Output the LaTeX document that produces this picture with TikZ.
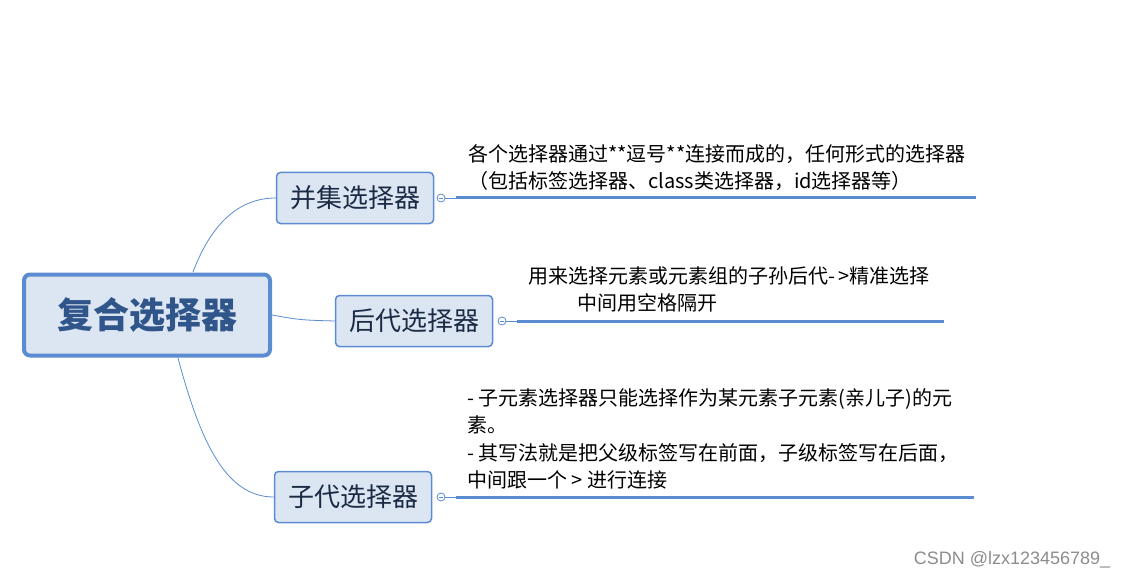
\documentclass[tikz,border=0pt]{standalone}
\usepackage{fontspec}
\setmainfont{Noto Sans CJK SC}
\newfontfamily\wmfont{Liberation Sans}
\definecolor{bc}{HTML}{5B8BD0}
\definecolor{fc}{HTML}{DCE6F2}
\definecolor{subtext}{HTML}{1C2B45}
\definecolor{roottext}{HTML}{30558A}
\definecolor{linec}{HTML}{5B8BD0}
\tikzset{
  rootbox/.style={draw=bc, line width=4pt, fill=fc, rounded corners=6pt, minimum width=246pt, minimum height=81pt, inner sep=0pt, text=roottext, font=\fontsize{36}{42}\selectfont\bfseries},
  subbox/.style={draw=bc, line width=1.5pt, fill=fc, rounded corners=4pt, minimum width=157pt, minimum height=51pt, inner sep=0pt, text=subtext, font=\fontsize{26}{30}\selectfont},
  note/.style={anchor=west, align=left, inner sep=0pt, text=black, font=\fontsize{20}{27.3}\selectfont},
  branch/.style={draw=linec, line width=0.8pt},
  thinln/.style={draw=linec, line width=0.9pt},
  thickln/.style={draw=linec, line width=3pt},
  knob/.style={circle, draw=linec, fill=white, line width=0.8pt, minimum size=8pt, inner sep=0pt}
}
\begin{document}
\begin{tikzpicture}[x=1pt, y=-1pt]
\useasboundingbox (0,0) rectangle (1129,580);
% nodes
\node[rootbox] (root) at (147,315) {复合选择器};
\node[subbox] (bj) at (355,198) {并集选择器};
\node[subbox] (hd) at (414,321) {后代选择器};
\node[subbox] (zd) at (353,497) {子代选择器};
% branches
\coordinate (rtop) at (193,272);
\coordinate (rbot) at (178,358);
\draw[branch] (rtop) .. controls (212,222) and (240,198) .. (bj.west);
\draw[branch] (root.east) .. controls (300,320) .. (hd.west);
\draw[branch] (rbot) .. controls (200,440) and (225,497) .. (zd.west);
% knobs and note lines
\node[knob] (k1) at (441,198) {};
\node[knob] (k2) at (502,321) {};
\node[knob] (k3) at (441,497) {};
\foreach \k in {k1,k2,k3} {
  \draw[linec, line width=0.8pt] ([xshift=-2.2pt]\k.center) -- ([xshift=2.2pt]\k.center);
}
\coordinate (l1a) at (456,198); \coordinate (l1b) at (976,198);
\coordinate (l2a) at (517,321); \coordinate (l2b) at (944,321);
\coordinate (l3a) at (456,497); \coordinate (l3b) at (974,497);
\draw[thinln] (k1.east) -- (l1a);
\draw[thinln] (k2.east) -- (l2a);
\draw[thinln] (k3.east) -- (l3a);
\draw[thickln] (l1a) -- (l1b);
\draw[thickln] (l2a) -- (l2b);
\draw[thickln] (l3a) -- (l3b);
% notes
\node[note] (n1) at (468,167.5) {各个选择器通过**逗号**连接而成的，任何形式的选择器\\（包括标签选择器、class类选择器，id选择器等）};
\node[note] (n2a) at (528,276) {用来选择元素或元素组的子孙后代-\,>精准选择};
\node[note] (n2b) at (577,303) {中间用空格隔开};
\node[note] (n3) at (467,439) {- 子元素选择器只能选择作为某元素子元素(亲儿子)的元\\素。\\- 其写法就是把父级标签写在前面，子级标签写在后面，\\中间跟一个 > 进行连接};
% watermark
\node[inner sep=0pt, text=black!45, font=\wmfont\fontsize{18}{20}\selectfont] (wm) at (1012,560) {CSDN @lzx123456789\_};
\end{tikzpicture}
\end{document}
